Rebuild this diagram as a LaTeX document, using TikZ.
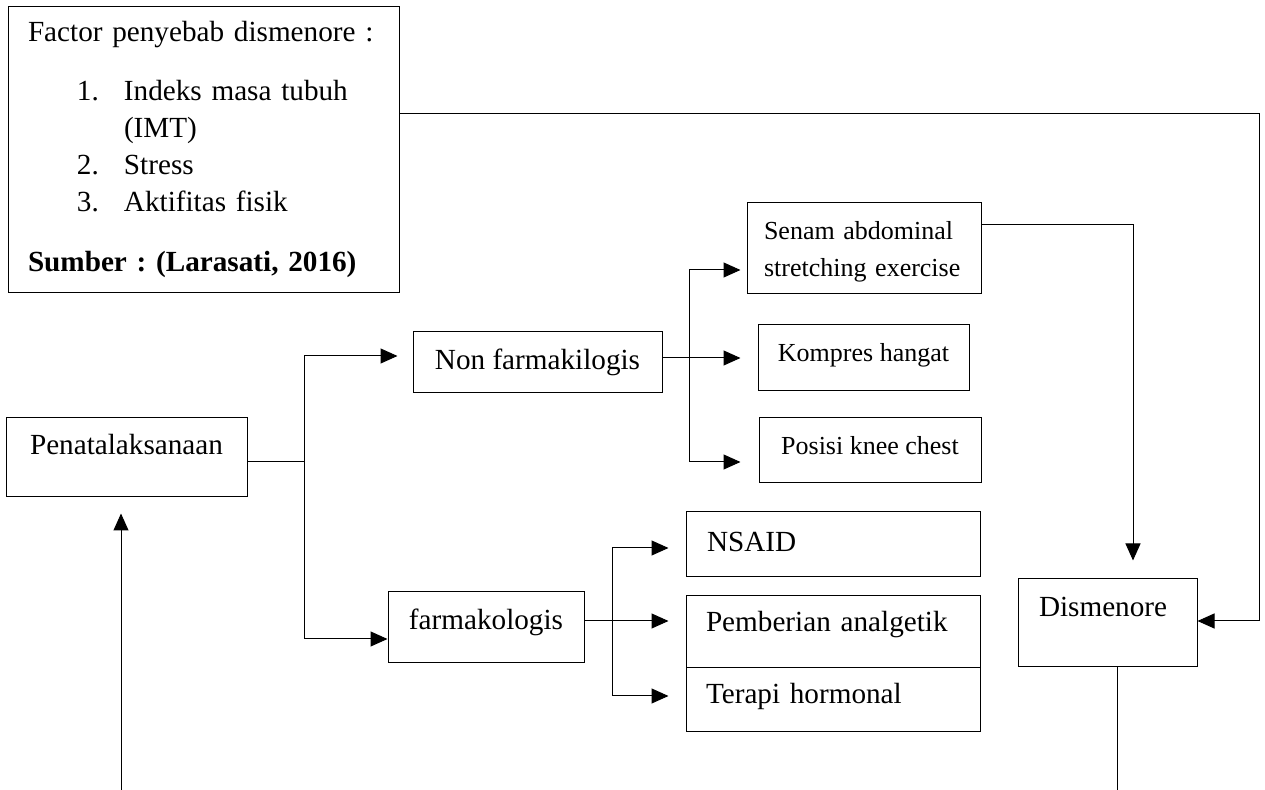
\documentclass[tikz,border=0pt]{standalone}
\usepackage{fontspec}
\setmainfont{Liberation Serif}
\usetikzlibrary{arrows.meta}
\tikzset{
  kotak/.style={draw, line width=0.5pt, inner sep=0pt, text height=10pt, font=\fontsize{14.6}{18.5}\selectfont\frenchspacing},
  kecil/.style={kotak, text height=9pt, font=\fontsize{13}{18.5}\selectfont\frenchspacing},
  garis/.style={line width=0.5pt},
  panah/.style={-{Triangle[length=8.5pt,width=7.5pt]}},
}
\begin{document}
\begin{tikzpicture}[x=0.5pt,y=-0.5pt]
\useasboundingbox (0,0) rectangle (1265,790);
% kotak
\node[kotak, minimum width=195.5pt, minimum height=143pt, text width=175.5pt, inner xsep=10pt, align=left] (fak) at (203.5,150) {Factor penyebab dismenore :\\[11pt]
\hspace*{24.5pt}\makebox[23.5pt][l]{1.}Indeks masa tubuh\\
\hspace*{48pt}(IMT)\\
\hspace*{24.5pt}\makebox[23.5pt][l]{2.}Stress\\
\hspace*{24.5pt}\makebox[23.5pt][l]{3.}Aktifitas fisik\\[11.5pt]
\textbf{Sumber : (Larasati, 2016)}};
\node[kotak, minimum width=120.5pt, minimum height=39.5pt, text depth=12.5pt] (pen) at (126.5,457.5) {Penatalaksanaan};
\node[kotak, minimum width=124.5pt, minimum height=30.5pt, text depth=2.5pt] (nonf) at (537.5,362.5) {Non farmakilogis};
\node[kotak, minimum width=98pt, minimum height=35.5pt, text depth=7.5pt] (farm) at (486,627.5) {farmakologis};
\node[kecil, minimum width=117pt, minimum height=45.5pt, text width=100pt, inner xsep=8.5pt, align=left, text depth=17.5pt] (senam) at (864,248.5) {Senam abdominal\\stretching exercise};
\node[kecil, minimum width=105.5pt, minimum height=33pt, text depth=5pt] (kompres) at (863.5,358) {Kompres hangat};
\node[kecil, minimum width=111pt, minimum height=32.5pt, text depth=4.5pt] (posisi) at (870,450.5) {Posisi knee chest};
\node[kotak, minimum width=147pt, minimum height=32.5pt, text width=126pt, inner xsep=10.5pt, align=left, text depth=2.5pt] (nsaid) at (833,544.5) {NSAID};
\node[kotak, minimum width=147pt, minimum height=36pt, text width=127pt, inner xsep=10pt, align=left, text depth=10pt] (anal) at (833,632) {Pemberian analgetik};
\node[kotak, minimum width=147pt, minimum height=32pt, text width=127pt, inner xsep=10pt, align=left, text depth=6pt] (horm) at (833,700) {Terapi hormonal};
\node[kotak, minimum width=89.5pt, minimum height=44pt, text width=68.5pt, inner xsep=10.5pt, align=left, text depth=16pt] (dis) at (1107.5,623) {Dismenore};
% titik cabang
\coordinate (c1) at ([shift={(28.5pt,-2.25pt)}]pen.east);
\coordinate (c2) at ([shift={(13.5pt,2.25pt)}]nonf.east);
\coordinate (c3) at ([shift={(14pt,3.25pt)}]farm.east);
\coordinate (c4) at (1259,114);
\coordinate (c5) at (1117,790);
\coordinate (c6) at (121,790);
% penatalaksanaan
\draw[garis] (pen.east |- c1) -- (c1);
\draw[garis,panah,shorten >=7.5pt] (c1) |- ([yshift=3.25pt]nonf.west);
\draw[garis,panah] (c1) |- ([yshift=-5.75pt]farm.west);
% non farmakologis
\draw[garis] (nonf.east |- c2) -- (c2);
\draw[garis,panah,shorten >=3pt] (c2) |- ([yshift=-10.75pt]senam.west);
\draw[garis,panah,shorten >=8.5pt] (c2) -- (c2 -| kompres.west);
\draw[garis,panah,shorten >=9pt] (c2) |- ([yshift=-5.75pt]posisi.west);
% farmakologis
\draw[garis] (farm.east |- c3) -- (c3);
\draw[garis,panah,shorten >=8.5pt] (c3) |- ([yshift=-1.75pt]nsaid.west);
\draw[garis,panah,shorten >=8.5pt] (c3) -- (c3 -| anal.west);
\draw[garis,panah,shorten >=8.5pt] (c3) |- ([yshift=2pt]horm.west);
% ke dismenore
\draw[garis,panah] ([yshift=18pt]fak.east) -- (c4) |- ([yshift=1pt]dis.east);
\draw[garis,panah,shorten >=9pt] ([yshift=11.75pt]senam.east) -| ([xshift=12.75pt]dis.north);
\draw[garis] (dis.south -| c5) -- (c5);
\draw[garis,panah,shorten >=8pt] (c6) -- (c6 |- pen.south);
\end{tikzpicture}
\end{document}
